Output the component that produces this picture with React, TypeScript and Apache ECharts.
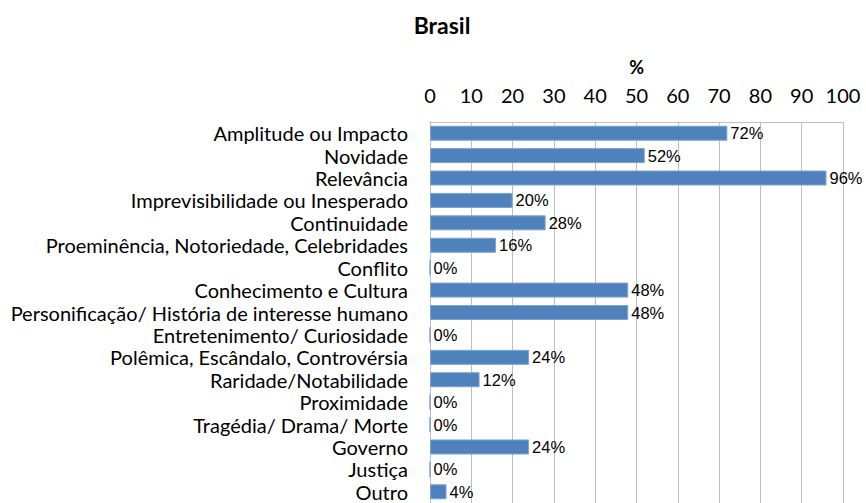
import React, { useEffect, useRef } from "react";
import * as echarts from "echarts";

const categories = [
  "Amplitude ou Impacto",
  "Novidade",
  "Relevância",
  "Imprevisibilidade ou Inesperado",
  "Continuidade",
  "Proeminência, Notoriedade, Celebridades",
  "Conflito",
  "Conhecimento e Cultura",
  "Personificação/ História de interesse humano",
  "Entretenimento/ Curiosidade",
  "Polêmica, Escândalo, Controvérsia",
  "Raridade/Notabilidade",
  "Proximidade",
  "Tragédia/ Drama/ Morte",
  "Governo",
  "Justiça",
  "Outro",
];
const values = [72, 52, 96, 20, 28, 16, 0, 48, 48, 0, 24, 12, 0, 0, 24, 0, 4];
const title = "Brasil";
const axisName = "%";

export default function App() {
  const ref = useRef<HTMLDivElement>(null);
  useEffect(() => {
    if (!ref.current) return;
    const chart = echarts.init(ref.current, undefined, { renderer: "svg" });
    chart.setOption({
      animation: false,
      backgroundColor: "#ffffff",
      title: {
        text: title,
        left: 437,
        top: 8,
        textAlign: "center",
        textStyle: { fontFamily: "Lato", fontWeight: "bold", fontSize: 23, color: "#000" },
      },
      grid: { left: 430, top: 122, width: 413, height: 384, containLabel: false },
      xAxis: {
        type: "value",
        position: "top",
        min: 0,
        max: 100,
        interval: 10,
        name: axisName,
        nameLocation: "middle",
        nameGap: 46,
        nameTextStyle: { fontFamily: "Lato", fontWeight: "bold", fontSize: 18, color: "#000" },
        axisLine: { show: true, lineStyle: { color: "#bfbfbf" } },
        axisTick: { show: false },
        axisLabel: { fontFamily: "Lato", fontSize: 20, color: "#000", margin: 17 },
        splitLine: { show: true, lineStyle: { color: "#bfbfbf", width: 1 } },
      },
      yAxis: {
        type: "category",
        data: categories,
        inverse: true,
        axisLine: { show: true, lineStyle: { color: "#bfbfbf" } },
        axisTick: { show: false },
        axisLabel: {
          interval: 0,
          hideOverlap: false,
          fontFamily: "Lato",
          fontSize: 20,
          lineHeight: 20,
          color: "#000",
          margin: 22,
        },
      },
      series: [
        {
          type: "bar",
          data: values,
          barWidth: "67%",
          itemStyle: { color: "#4f81bd", borderColor: "#7ea3d0", borderWidth: 1 },
          label: {
            show: true,
            position: "right",
            distance: 3,
            formatter: "{c}%",
            fontFamily: "Liberation Sans",
            fontSize: 16.5,
            lineHeight: 18,
            color: "#000",
          },
        },
      ],
    });
    return () => chart.dispose();
  }, []);
  return (
    <div
      ref={ref}
      style={{ position: "fixed", left: 0, top: 0, width: 866, height: 503 }}
    />
  );
}
